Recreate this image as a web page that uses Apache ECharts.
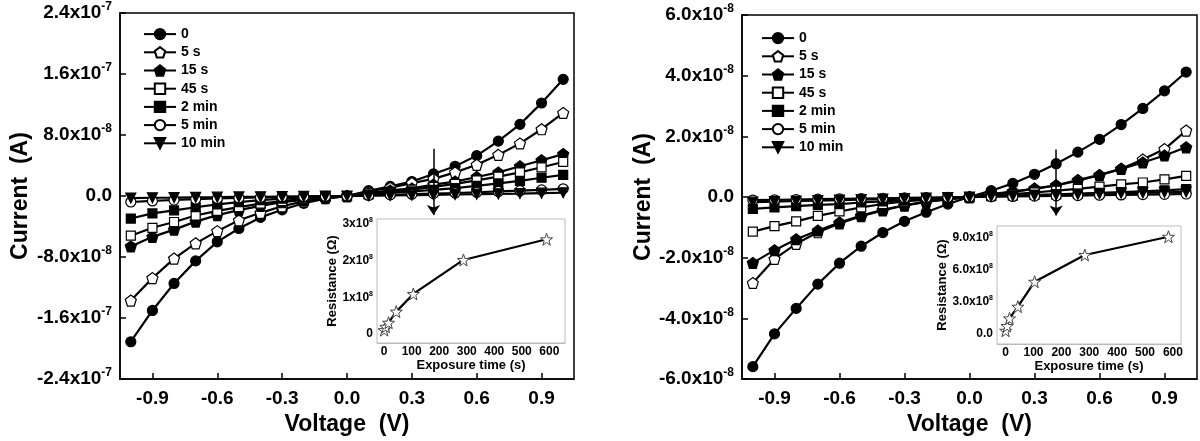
<!DOCTYPE html>
<html>
<head>
<meta charset="utf-8">
<script src="https://cdn.jsdelivr.net/npm/echarts@6/dist/echarts.min.js"></script>
<style>html,body{margin:0;padding:0;background:#fff}#c{width:1200px;height:441px}</style>
</head>
<body>
<div id="c"></div>
<script>
// ---------- data ----------
const voltage = [-1.0,-0.9,-0.8,-0.7,-0.6,-0.5,-0.4,-0.3,-0.2,-0.1,0,0.1,0.2,0.3,0.4,0.5,0.6,0.7,0.8,0.9,1.0];
const seriesNames = ['0','5 s','15 s','45 s','2 min','5 min','10 min'];

// left panel currents (A)
const left0   = [-1.91e-7,-1.50e-7,-1.146e-7,-0.85e-7,-0.60e-7,-0.425e-7,-0.28e-7,-0.18e-7,-0.095e-7,-0.035e-7,0,0.07e-7,0.126e-7,0.19e-7,0.29e-7,0.39e-7,0.53e-7,0.72e-7,0.94e-7,1.22e-7,1.53e-7];
const left5s  = [-1.37e-7,-1.076e-7,-0.82e-7,-0.62e-7,-0.46e-7,-0.317e-7,-0.22e-7,-0.134e-7,-0.07e-7,-0.026e-7,0,0.06e-7,0.11e-7,0.17e-7,0.225e-7,0.31e-7,0.41e-7,0.54e-7,0.69e-7,0.876e-7,1.09e-7];
const left15s = [-0.66e-7,-0.535e-7,-0.44e-7,-0.335e-7,-0.25e-7,-0.185e-7,-0.128e-7,-0.081e-7,-0.049e-7,-0.017e-7,0,0.04e-7,0.074e-7,0.10e-7,0.15e-7,0.19e-7,0.25e-7,0.31e-7,0.39e-7,0.47e-7,0.55e-7];
const left45s = [-0.52e-7,-0.416e-7,-0.34e-7,-0.255e-7,-0.195e-7,-0.145e-7,-0.10e-7,-0.065e-7,-0.035e-7,-0.015e-7,0,0.035e-7,0.055e-7,0.085e-7,0.12e-7,0.16e-7,0.205e-7,0.255e-7,0.31e-7,0.377e-7,0.447e-7];
const left2m  = [-0.295e-7,-0.228e-7,-0.188e-7,-0.147e-7,-0.11e-7,-0.08e-7,-0.054e-7,-0.035e-7,-0.02e-7,-0.009e-7,0,0.02e-7,0.043e-7,0.06e-7,0.08e-7,0.104e-7,0.134e-7,0.165e-7,0.2e-7,0.24e-7,0.277e-7];
const left5m  = [-0.078e-7,-0.064e-7,-0.052e-7,-0.04e-7,-0.032e-7,-0.024e-7,-0.018e-7,-0.012e-7,-0.008e-7,-0.004e-7,0,0.008e-7,0.016e-7,0.024e-7,0.032e-7,0.04e-7,0.05e-7,0.06e-7,0.07e-7,0.08e-7,0.095e-7];
const left10m = [-0.026e-7,-0.022e-7,-0.02e-7,-0.017e-7,-0.015e-7,-0.012e-7,-0.01e-7,-0.007e-7,-0.005e-7,-0.002e-7,0,0.004e-7,0.008e-7,0.012e-7,0.016e-7,0.02e-7,0.024e-7,0.029e-7,0.033e-7,0.038e-7,0.043e-7];

// right panel currents (A)
const right0   = [-5.59e-8,-4.51e-8,-3.67e-8,-2.87e-8,-2.18e-8,-1.62e-8,-1.17e-8,-0.80e-8,-0.50e-8,-0.23e-8,0,0.21e-8,0.45e-8,0.75e-8,1.10e-8,1.48e-8,1.90e-8,2.39e-8,2.92e-8,3.50e-8,4.12e-8];
const right5s  = [-2.83e-8,-2.04e-8,-1.54e-8,-1.16e-8,-0.87e-8,-0.63e-8,-0.44e-8,-0.28e-8,-0.16e-8,-0.08e-8,0,0.09e-8,0.17e-8,0.27e-8,0.38e-8,0.54e-8,0.72e-8,0.93e-8,1.24e-8,1.58e-8,2.19e-8];
const right15s = [-2.17e-8,-1.75e-8,-1.39e-8,-1.10e-8,-0.84e-8,-0.61e-8,-0.42e-8,-0.27e-8,-0.15e-8,-0.07e-8,0,0.10e-8,0.18e-8,0.28e-8,0.39e-8,0.56e-8,0.73e-8,0.93e-8,1.14e-8,1.37e-8,1.64e-8];
const right45s = [-1.14e-8,-0.96e-8,-0.80e-8,-0.62e-8,-0.475e-8,-0.34e-8,-0.23e-8,-0.145e-8,-0.085e-8,-0.03e-8,0,0.05e-8,0.10e-8,0.15e-8,0.21e-8,0.27e-8,0.345e-8,0.42e-8,0.48e-8,0.58e-8,0.70e-8];
const right2m  = [-0.39e-8,-0.34e-8,-0.30e-8,-0.26e-8,-0.23e-8,-0.18e-8,-0.14e-8,-0.10e-8,-0.065e-8,-0.03e-8,0,0.03e-8,0.05e-8,0.07e-8,0.09e-8,0.11e-8,0.14e-8,0.16e-8,0.19e-8,0.22e-8,0.26e-8];
const right5m  = [-0.10e-8,-0.09e-8,-0.08e-8,-0.07e-8,-0.06e-8,-0.05e-8,-0.04e-8,-0.03e-8,-0.02e-8,-0.01e-8,0,0.01e-8,0.02e-8,0.03e-8,0.04e-8,0.05e-8,0.06e-8,0.07e-8,0.08e-8,0.09e-8,0.10e-8];
const right10m = [-0.17e-8,-0.15e-8,-0.13e-8,-0.115e-8,-0.10e-8,-0.085e-8,-0.07e-8,-0.05e-8,-0.035e-8,-0.015e-8,0,0.02e-8,0.04e-8,0.055e-8,0.07e-8,0.09e-8,0.11e-8,0.125e-8,0.14e-8,0.155e-8,0.17e-8];

// insets: resistance vs exposure time
const leftInsetTime = [0, 6, 16, 44, 106, 288, 590];
const leftInsetRes  = [0.11e8, 0.20e8, 0.31e8, 0.61e8, 1.09e8, 2.01e8, 2.57e8];
const rightInsetTime = [0, 5, 14, 44, 104, 284, 584];
const rightInsetRes  = [0.25e8, 0.69e8, 1.41e8, 2.51e8, 4.86e8, 7.37e8, 9.09e8];

// arrows at V = 0.4
const leftArrow  = [[0.4, 6.2e-8], [0.4, -2.5e-8]];
const rightArrow = [[0.4, 1.57e-8], [0.4, -0.61e-8]];

// tick labels
const xTicks = [-0.9,-0.6,-0.3,0,0.3,0.6,0.9];
const leftYTicks = [-2.4e-7,-1.6e-7,-0.8e-7,0,0.8e-7,1.6e-7,2.4e-7];
const rightYTicks = [-6e-8,-4e-8,-2e-8,0,2e-8,4e-8,6e-8];
const insetXTicks = [0,100,200,300,400,500,600];
const leftInsetYTicks = [0,1e8,2e8,3e8];
const rightInsetYTicks = [0,3e8,6e8,9e8];

// ---------- chart ----------
const FONT = 'Liberation Sans, Arial, sans-serif';
const PENT = 'path://M0,-10 L9.51,-3.09 L5.88,8.09 L-5.88,8.09 L-9.51,-3.09 Z';
const STAR = 'path://M0,-10 L2.35,-3.24 L9.51,-3.09 L3.8,1.24 L5.88,8.09 L0,4 L-5.88,8.09 L-3.8,1.24 L-9.51,-3.09 L-2.35,-3.24 Z';
const markerStyles = [
  {symbol:'circle', size:10, fill:'#000'},
  {symbol:PENT, size:11, fill:'#fff'},
  {symbol:PENT, size:11, fill:'#000'},
  {symbol:'rect', size:9, fill:'#fff'},
  {symbol:'rect', size:9, fill:'#000'},
  {symbol:'circle', size:10, fill:'#fff'},
  {symbol:'triangle', size:10, fill:'#000', rotate:180}
];

function sciLabel(v, dec, zero, eps) {
  if (Math.abs(v) < eps) return '{m|' + zero + '}';
  const s = v.toExponential(dec).split('e');
  return '{m|' + s[0] + 'x10}{e|' + parseInt(s[1], 10) + '}';
}

const mainRich = {
  m: {fontFamily: FONT, fontWeight: 'bold', fontSize: 19, color: '#000', lineHeight: 24},
  e: {fontFamily: FONT, fontWeight: 'bold', fontSize: 12, color: '#000', verticalAlign: 'top', lineHeight: 14}
};
const insetRich = {
  m: {fontFamily: FONT, fontWeight: 'bold', fontSize: 12, color: '#000', lineHeight: 14},
  e: {fontFamily: FONT, fontWeight: 'bold', fontSize: 7, color: '#000', verticalAlign: 'top', lineHeight: 8}
};

function mainX(gi) {
  return {
    type: 'value', gridIndex: gi, min: -1.05, max: 1.05,
    name: 'Voltage  (V)', nameLocation: 'middle', nameGap: 26,
    nameTextStyle: {fontFamily: FONT, fontWeight: 'bold', fontSize: 23, color: '#000', verticalAlign: 'top'},
    axisLine: {show: true, onZero: false, lineStyle: {color: '#000', width: 1.5}},
    axisTick: {show: true, inside: true, length: 6, customValues: xTicks, lineStyle: {color: '#000', width: 1.5}},
    axisLabel: {customValues: xTicks, margin: 10, fontFamily: FONT, fontWeight: 'bold', fontSize: 19, color: '#000',
      formatter: v => (Math.abs(v) < 1e-9 ? 0 : v).toFixed(1)},
    splitLine: {show: false}
  };
}
function mainY(gi, ticks, min, max, gap) {
  return {
    type: 'value', gridIndex: gi, min: min, max: max,
    name: 'Current  (A)', nameLocation: 'middle', nameGap: gap, nameRotate: 90,
    nameTextStyle: {fontFamily: FONT, fontWeight: 'bold', fontSize: 23, color: '#000'},
    axisLine: {show: true, onZero: false, lineStyle: {color: '#000', width: 1.5}},
    axisTick: {show: true, inside: true, length: 6, customValues: ticks, lineStyle: {color: '#000', width: 1.5}},
    axisLabel: {customValues: ticks, margin: 8, rich: mainRich,
      formatter: v => sciLabel(v, 1, '0.0', 1e-12)},
    splitLine: {show: false}
  };
}
function insetX(gi, min, max) {
  return {
    type: 'value', gridIndex: gi, min: min, max: max,
    name: 'Exposure time (s)', nameLocation: 'middle', nameGap: 16,
    nameTextStyle: {fontFamily: FONT, fontWeight: 'bold', fontSize: 13, color: '#000', verticalAlign: 'top'},
    axisLine: {show: true, onZero: false, lineStyle: {color: '#bbb', width: 1}},
    axisTick: {show: false},
    axisLabel: {customValues: insetXTicks, margin: 3, fontFamily: FONT, fontWeight: 'bold', fontSize: 12, color: '#000'},
    splitLine: {show: false}
  };
}
function insetY(gi, min, max, ticks, dec, zero, gap) {
  return {
    type: 'value', gridIndex: gi, min: min, max: max,
    name: 'Resistance (Ω)', nameLocation: 'middle', nameGap: gap, nameRotate: 90,
    nameTextStyle: {fontFamily: FONT, fontWeight: 'bold', fontSize: 13, color: '#000'},
    axisLine: {show: true, onZero: false, lineStyle: {color: '#bbb', width: 1}},
    axisTick: {show: false},
    axisLabel: {customValues: ticks, margin: 4, rich: insetRich,
      formatter: v => sciLabel(v, dec, zero, 1)},
    splitLine: {show: false}
  };
}

function ivSeries(name, idx, xi, yi, values, arrow) {
  const m = markerStyles[idx];
  const s = {
    name: name, type: 'line', xAxisIndex: xi, yAxisIndex: yi,
    data: voltage.map((v, i) => [v, values[i]]),
    symbol: m.symbol, symbolSize: m.size, symbolRotate: m.rotate || 0, showAllSymbol: true,
    lineStyle: {color: '#000', width: 2.2},
    itemStyle: {color: m.fill, borderColor: '#000', borderWidth: 1.2},
    emphasis: {disabled: true}, animation: false, z: 3
  };
  if (arrow) {
    s.markLine = {
      silent: true, symbol: ['none', 'arrow'], symbolSize: 10,
      label: {show: false},
      lineStyle: {color: '#000', width: 1.5, type: 'solid'},
      emphasis: {disabled: true},
      data: [[{coord: arrow[0], symbol: 'none'}, {coord: arrow[1], symbol: 'arrow', symbolSize: 10}]],
      z: 6
    };
  }
  return s;
}

const leftSets = [left0, left5s, left15s, left45s, left2m, left5m, left10m];
const rightSets = [right0, right5s, right15s, right45s, right2m, right5m, right10m];

const series = [];
leftSets.forEach((d, i) => series.push(ivSeries(seriesNames[i], i, 0, 0, d, i === 0 ? leftArrow : null)));
rightSets.forEach((d, i) => series.push(ivSeries(seriesNames[i], i, 1, 1, d, i === 0 ? rightArrow : null)));

function insetSeries(xi, times, res) {
  return {
    type: 'line', xAxisIndex: xi, yAxisIndex: xi,
    data: times.map((t, i) => [t, res[i]]),
    symbol: STAR, symbolSize: 12, showAllSymbol: true,
    lineStyle: {color: '#000', width: 2.2},
    itemStyle: {color: '#fff', borderColor: '#444', borderWidth: 1},
    emphasis: {disabled: true}, animation: false, z: 5
  };
}
series.push(insetSeries(2, leftInsetTime, leftInsetRes));
series.push(insetSeries(3, rightInsetTime, rightInsetRes));

const legendBase = {
  orient: 'vertical', data: seriesNames, itemWidth: 32, itemHeight: 13, itemGap: 0,
  textStyle: {fontFamily: FONT, fontWeight: 'bold', fontSize: 14, color: '#000', lineHeight: 18.2},
  selectedMode: false
};

const option = {
  backgroundColor: '#fff',
  animation: false,
  grid: [
    {left: 120, top: 13, width: 454, height: 369, show: true, borderColor: '#000', borderWidth: 1.5, containLabel: false},
    {left: 742, top: 15, width: 455, height: 366, show: true, borderColor: '#000', borderWidth: 1.5, containLabel: false},
    {left: 377, top: 219, width: 188, height: 124, show: true, backgroundColor: '#fff', borderColor: '#bbb', borderWidth: 1, z: 4},
    {left: 997, top: 226, width: 184, height: 118, show: true, backgroundColor: '#fff', borderColor: '#bbb', borderWidth: 1, z: 4}
  ],
  xAxis: [mainX(0), mainX(1), insetX(2, -26, 657), insetX(3, -31, 629)],
  yAxis: [
    mainY(0, leftYTicks, -2.4e-7, 2.4e-7, 88),
    mainY(1, rightYTicks, -6e-8, 6e-8, 84),
    insetY(2, -0.24e8, 3.12e8, leftInsetYTicks, 0, '0', 36),
    insetY(3, -1.0e8, 10.1e8, rightInsetYTicks, 1, '0.0', 46)
  ],
  legend: [
    Object.assign({left: 138, top: 20}, legendBase),
    Object.assign({left: 756, top: 24}, legendBase)
  ],
  series: series
};

const chart = echarts.init(document.getElementById('c'), null, {renderer: 'canvas'});
chart.setOption(option);
</script>
</body>
</html>
